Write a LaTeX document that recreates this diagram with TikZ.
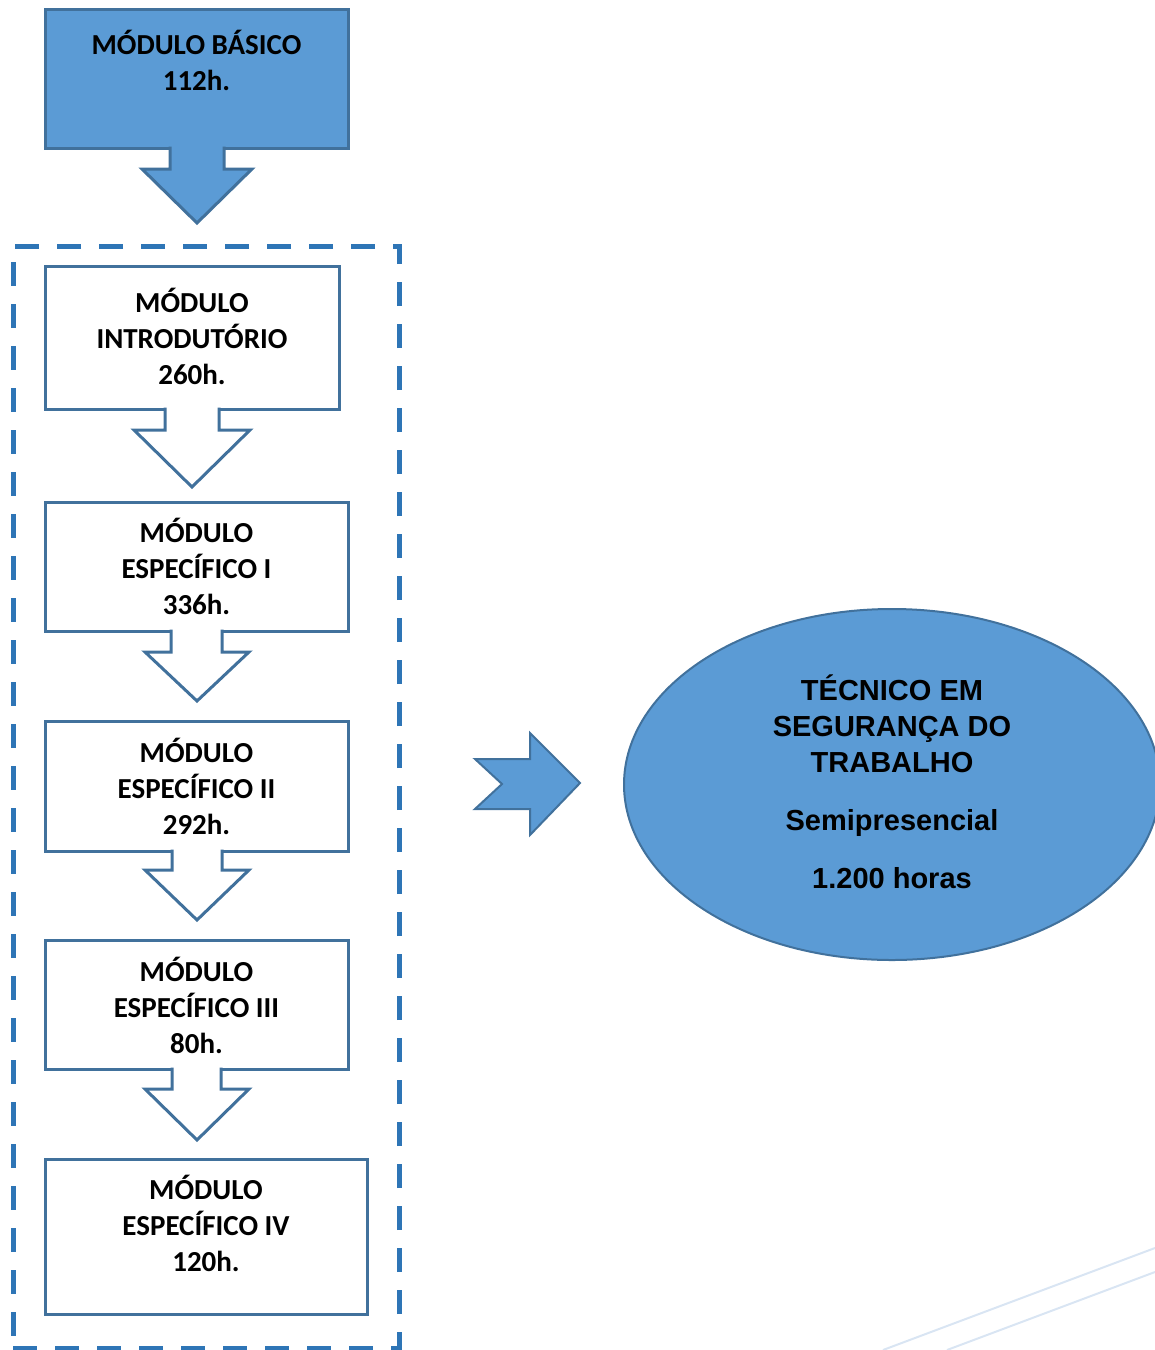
\documentclass[tikz,border=0pt]{standalone}
\usepackage{fontspec}
\usetikzlibrary{shapes.geometric}
\setmainfont{Carlito}
\newfontfamily\arialfont{Liberation Sans}
\definecolor{fillblue}{HTML}{5B9BD5}
\definecolor{edgeblue}{HTML}{41719C}
\definecolor{dashblue}{HTML}{2E75B6}
\definecolor{faintblue}{HTML}{D9E5F3}
\begin{document}
\begin{tikzpicture}[x=1pt,y=-1pt,
  modbox/.style={draw=edgeblue,line width=3pt,fill=white,rectangle,inner sep=0pt},
  modtext/.style={font=\fontsize{29}{36}\selectfont\bfseries,align=center,inner sep=0pt},
  downarrow/.style={draw=edgeblue,line width=3pt,fill=white,line join=miter},
  bluearrow/.style={draw=edgeblue,line width=3pt,fill=fillblue,line join=miter},
  groupbox/.style={draw=dashblue,line width=5pt,dash pattern=on 24pt off 18pt},
]
\useasboundingbox (0,0) rectangle (1155,1350);
% faint background lines
\draw[faintblue,line width=2pt] (883,1350) -- (1155,1248);
\draw[faintblue,line width=2pt] (947,1350) -- (1155,1272);

% top filled box with arrow
\node[modbox,fill=fillblue,minimum width=303pt,minimum height=139pt] (mb) at (196.5,78.5) {};
\draw[bluearrow] (170,146.5) -- (170,169) -- (142,169) -- (197,223) -- (252,169) -- (224,169) -- (224,146.5);
\node[modtext] (mbt) at (196.5,60) {MÓDULO BÁSICO\\112h.};

% dashed group
\node[groupbox,rectangle,minimum width=386pt,minimum height=1102pt,inner sep=0pt] (grp) at (206,797) {};

% box 1
\node[modbox,minimum width=294pt,minimum height=143pt] (m1) at (192,337.5) {};
\node[modtext] (m1t) at (192,336) {MÓDULO\\INTRODUTÓRIO\\260h.};
\draw[downarrow] (165,407.5) -- (165,430) -- (134,430) -- (192,487) -- (250,430) -- (219,430) -- (219,407.5);

% box 2
\node[modbox,minimum width=303pt,minimum height=129pt] (m2) at (196.5,566.5) {};
\node[modtext] (m2t) at (196.5,566) {MÓDULO\\ESPECÍFICO I\\336h.};
\draw[downarrow] (171,629.5) -- (171,652) -- (145,652) -- (197,701) -- (249,652) -- (222,652) -- (222,629.5);

% box 3
\node[modbox,minimum width=303pt,minimum height=130pt] (m3) at (196.5,786) {};
\node[modtext] (m3t) at (196.5,786) {MÓDULO\\ESPECÍFICO II\\292h.};
\draw[downarrow] (172,849.5) -- (172,870) -- (145,870) -- (197,920) -- (249,870) -- (222,870) -- (222,849.5);

% box 4
\node[modbox,minimum width=303pt,minimum height=129pt] (m4) at (196.5,1004.5) {};
\node[modtext] (m4t) at (196.5,1005) {MÓDULO\\ESPECÍFICO III\\80h.};
\draw[downarrow] (172,1067.5) -- (172,1089) -- (145,1089) -- (197,1140) -- (249,1089) -- (221,1089) -- (221,1067.5);

% box 5
\node[modbox,minimum width=322pt,minimum height=155pt] (m5) at (206,1236.5) {};
\node[modtext] (m5t) at (206,1223) {MÓDULO\\ESPECÍFICO IV\\120h.};

% notched right arrow
\draw[draw=edgeblue,line width=2pt,fill=fillblue,line join=miter]
  (475,759) -- (530,759) -- (530,733) -- (580,783) -- (530,835) -- (530,809) -- (475,809) -- (502,784) -- cycle;

% ellipse
\node[draw=edgeblue,line width=2pt,fill=fillblue,ellipse,minimum width=536pt,minimum height=351pt,inner sep=0pt] (tec) at (892,784.5) {};
\node[font=\arialfont\fontsize{29}{36}\selectfont\bfseries,align=center,inner sep=0pt] (tect) at (892,782)
  {TÉCNICO EM\\SEGURANÇA DO\\TRABALHO\\[22pt]Semipresencial\\[22pt]1.200 horas};
\end{tikzpicture}
\end{document}
